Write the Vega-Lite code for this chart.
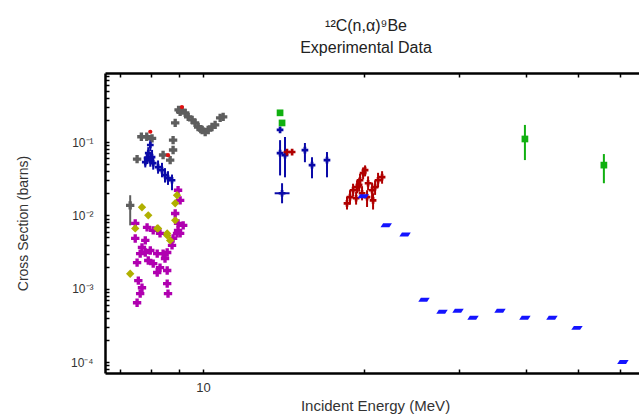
{
  "$schema": "https://vega.github.io/schema/vega-lite/v6.json",
  "width": 540,
  "height": 300,
  "autosize": "none",
  "padding": {"left": 105, "top": 73, "right": 0, "bottom": 43},
  "background": "white",
  "title": {"text": ["¹²C(n,α)⁹Be", "Experimental Data"], "font": "Liberation Sans", "fontSize": 16, "fontWeight": "normal", "color": "#222", "anchor": "middle", "offset": 16, "lineHeight": 22, "dx": -9},
  "config": {
    "view": {"stroke": null},
    "axis": {"domainColor": "black", "domainWidth": 2.5, "tickColor": "black", "tickWidth": 1.5, "grid": false, "labelFont": "Liberation Sans", "titleFont": "Liberation Sans", "labelColor": "#333", "titleColor": "#333", "titleFontWeight": "normal", "labelFontSize": 12, "titleFontSize": 15}
  },
  "data": {"values": [
    {"s": "gray", "E": 9.0, "sig": 0.274}, {"s": "gray", "E": 9.14, "sig": 0.27}, {"s": "gray", "E": 9.06, "sig": 0.258}, {"s": "gray", "E": 9.26, "sig": 0.25},
    {"s": "gray", "E": 9.38, "sig": 0.22}, {"s": "gray", "E": 9.54, "sig": 0.2}, {"s": "gray", "E": 9.66, "sig": 0.182}, {"s": "gray", "E": 9.79, "sig": 0.16},
    {"s": "gray", "E": 9.96, "sig": 0.146}, {"s": "gray", "E": 10.09, "sig": 0.137}, {"s": "gray", "E": 10.22, "sig": 0.146}, {"s": "gray", "E": 10.39, "sig": 0.16},
    {"s": "gray", "E": 10.53, "sig": 0.171}, {"s": "gray", "E": 10.76, "sig": 0.213}, {"s": "gray", "E": 10.9, "sig": 0.22}, {"s": "gray", "E": 9.9, "sig": 0.15},
    {"s": "gray", "E": 8.87, "sig": 0.182}, {"s": "gray", "E": 8.79, "sig": 0.106}, {"s": "gray", "E": 8.79, "sig": 0.0777}, {"s": "gray", "E": 8.68, "sig": 0.0567},
    {"s": "gray", "E": 8.42, "sig": 0.0664}, {"s": "gray", "E": 7.67, "sig": 0.118}, {"s": "gray", "E": 7.85, "sig": 0.118}, {"s": "gray", "E": 8.03, "sig": 0.112},
    {"s": "gray", "E": 7.53, "sig": 0.0585}, {"s": "gray", "E": 7.31, "sig": 0.0137, "lo": 0.0073, "hi": 0.0188},
    {"s": "red", "E": 9.13, "sig": 0.3}, {"s": "red", "E": 7.97, "sig": 0.138}, {"s": "red", "E": 8.6, "sig": 0.066},
    {"s": "navy", "E": 7.97, "sig": 0.091, "lo": 0.075, "hi": 0.11}, {"s": "navy", "E": 7.9, "sig": 0.0707, "lo": 0.058, "hi": 0.085},
    {"s": "navy", "E": 7.86, "sig": 0.0604, "lo": 0.05, "hi": 0.072}, {"s": "navy", "E": 8.03, "sig": 0.0623, "lo": 0.05, "hi": 0.078},
    {"s": "navy", "E": 8.07, "sig": 0.0516, "lo": 0.042, "hi": 0.063}, {"s": "navy", "E": 8.24, "sig": 0.0455, "lo": 0.037, "hi": 0.056},
    {"s": "navy", "E": 8.38, "sig": 0.0413, "lo": 0.033, "hi": 0.052}, {"s": "navy", "E": 8.49, "sig": 0.0353, "lo": 0.028, "hi": 0.044},
    {"s": "navy", "E": 8.6, "sig": 0.0321, "lo": 0.026, "hi": 0.04}, {"s": "navy", "E": 8.75, "sig": 0.0301, "lo": 0.022, "hi": 0.036},
    {"s": "navy", "E": 7.97, "sig": 0.0567, "lo": 0.046, "hi": 0.07}, {"s": "navy", "E": 7.8, "sig": 0.0532, "lo": 0.045, "hi": 0.064},
    {"s": "navy", "E": 13.92, "sig": 0.146, "lo": 0.135, "hi": 0.16}, {"s": "navy", "E": 13.92, "sig": 0.0707, "lo": 0.035, "hi": 0.106},
    {"s": "navy", "E": 14.22, "sig": 0.0664, "lo": 0.033, "hi": 0.117}, {"s": "navy", "E": 14.04, "sig": 0.02, "lo": 0.0146, "hi": 0.0274, "elo": 13.6, "ehi": 14.5},
    {"s": "navy", "E": 15.49, "sig": 0.0777, "lo": 0.053, "hi": 0.097}, {"s": "navy", "E": 15.97, "sig": 0.0484, "lo": 0.032, "hi": 0.062},
    {"s": "navy", "E": 17.03, "sig": 0.0567, "lo": 0.033, "hi": 0.073},
    {"s": "magenta", "E": 7.47, "sig": 0.00484}, {"s": "magenta", "E": 7.69, "sig": 0.00365}, {"s": "magenta", "E": 7.63, "sig": 0.00301},
    {"s": "magenta", "E": 7.8, "sig": 0.00311}, {"s": "magenta", "E": 7.97, "sig": 0.00332}, {"s": "magenta", "E": 8.21, "sig": 0.00301},
    {"s": "magenta", "E": 8.42, "sig": 0.00301}, {"s": "magenta", "E": 8.57, "sig": 0.00311}, {"s": "magenta", "E": 8.94, "sig": 0.00567},
    {"s": "magenta", "E": 8.98, "sig": 0.00623}, {"s": "magenta", "E": 8.79, "sig": 0.00484}, {"s": "magenta", "E": 7.53, "sig": 0.00227},
    {"s": "magenta", "E": 7.9, "sig": 0.00242}, {"s": "magenta", "E": 8.07, "sig": 0.0022}, {"s": "magenta", "E": 8.31, "sig": 0.00194},
    {"s": "magenta", "E": 8.57, "sig": 0.00177}, {"s": "magenta", "E": 8.21, "sig": 0.00166}, {"s": "magenta", "E": 7.57, "sig": 0.00129},
    {"s": "magenta", "E": 7.69, "sig": 0.00103}, {"s": "magenta", "E": 7.63, "sig": 0.000855}, {"s": "magenta", "E": 7.53, "sig": 0.000643},
    {"s": "magenta", "E": 8.57, "sig": 0.00117}, {"s": "magenta", "E": 8.6, "sig": 0.000855}, {"s": "magenta", "E": 8.98, "sig": 0.022},
    {"s": "magenta", "E": 9.06, "sig": 0.016}, {"s": "magenta", "E": 8.87, "sig": 0.0106}, {"s": "magenta", "E": 8.98, "sig": 0.00776},
    {"s": "magenta", "E": 7.47, "sig": 0.00776}, {"s": "magenta", "E": 7.86, "sig": 0.00685}, {"s": "magenta", "E": 8.07, "sig": 0.00623},
    {"s": "magenta", "E": 8.31, "sig": 0.00567}, {"s": "magenta", "E": 9.06, "sig": 0.00567}, {"s": "magenta", "E": 7.8, "sig": 0.00455},
    {"s": "magenta", "E": 8.49, "sig": 0.00258}, {"s": "magenta", "E": 8.75, "sig": 0.0039}, {"s": "magenta", "E": 9.18, "sig": 0.0073},
    {"s": "olive", "E": 8.94, "sig": 0.0188}, {"s": "olive", "E": 8.87, "sig": 0.0146}, {"s": "olive", "E": 8.87, "sig": 0.00855},
    {"s": "olive", "E": 7.69, "sig": 0.0129}, {"s": "olive", "E": 7.9, "sig": 0.01}, {"s": "olive", "E": 8.24, "sig": 0.00664},
    {"s": "olive", "E": 8.57, "sig": 0.00567}, {"s": "olive", "E": 7.47, "sig": 0.00664}, {"s": "olive", "E": 8.21, "sig": 0.00664},
    {"s": "olive", "E": 8.57, "sig": 0.00532}, {"s": "olive", "E": 8.68, "sig": 0.00455}, {"s": "olive", "E": 7.31, "sig": 0.0016},
    {"s": "darkred", "E": 14.34, "sig": 0.073, "lo": 0.066, "hi": 0.08}, {"s": "darkred", "E": 14.66, "sig": 0.073},
    {"s": "darkred", "E": 18.56, "sig": 0.0146, "lo": 0.012, "hi": 0.018}, {"s": "darkred", "E": 18.8, "sig": 0.0177, "lo": 0.014, "hi": 0.022},
    {"s": "darkred", "E": 19.05, "sig": 0.022, "lo": 0.018, "hi": 0.027}, {"s": "darkred", "E": 19.38, "sig": 0.0242, "lo": 0.02, "hi": 0.03},
    {"s": "darkred", "E": 19.63, "sig": 0.0301, "lo": 0.024, "hi": 0.037}, {"s": "darkred", "E": 19.89, "sig": 0.0376, "lo": 0.031, "hi": 0.045},
    {"s": "darkred", "E": 20.06, "sig": 0.0413, "lo": 0.034, "hi": 0.048}, {"s": "darkred", "E": 20.32, "sig": 0.0274, "lo": 0.022, "hi": 0.034},
    {"s": "darkred", "E": 20.67, "sig": 0.022, "lo": 0.016, "hi": 0.028}, {"s": "darkred", "E": 20.94, "sig": 0.0242, "lo": 0.019, "hi": 0.03},
    {"s": "darkred", "E": 21.21, "sig": 0.0301, "lo": 0.024, "hi": 0.038}, {"s": "darkred", "E": 21.58, "sig": 0.0332, "lo": 0.027, "hi": 0.04},
    {"s": "darkred", "E": 19.8, "sig": 0.02, "lo": 0.016, "hi": 0.025}, {"s": "darkred", "E": 20.23, "sig": 0.0177, "lo": 0.013, "hi": 0.022},
    {"s": "darkred", "E": 20.76, "sig": 0.016, "lo": 0.012, "hi": 0.02}, {"s": "darkred", "E": 19.3, "sig": 0.0171, "lo": 0.014, "hi": 0.021},
    {"s": "darkred", "E": 19.55, "sig": 0.026, "lo": 0.021, "hi": 0.032},
    {"s": "blue", "E": 19.89, "sig": 0.0182}, {"s": "blue", "E": 21.97, "sig": 0.0073}, {"s": "blue", "E": 23.82, "sig": 0.00549},
    {"s": "blue", "E": 25.84, "sig": 0.000707}, {"s": "blue", "E": 27.92, "sig": 0.000484}, {"s": "blue", "E": 29.91, "sig": 0.0005},
    {"s": "blue", "E": 31.9, "sig": 0.000401}, {"s": "blue", "E": 35.82, "sig": 0.0005}, {"s": "blue", "E": 39.87, "sig": 0.000401},
    {"s": "blue", "E": 44.78, "sig": 0.000401}, {"s": "blue", "E": 49.87, "sig": 0.000292}, {"s": "blue", "E": 60.75, "sig": 0.0001},
    {"s": "green", "E": 13.92, "sig": 0.25}, {"s": "green", "E": 14.04, "sig": 0.182},
    {"s": "green", "E": 39.87, "sig": 0.11, "lo": 0.0567, "hi": 0.171}, {"s": "green", "E": 55.98, "sig": 0.0484, "lo": 0.0274, "hi": 0.0685}
  ]},
  "resolve": {"axis": {"x": "independent", "y": "independent"}},
  "layer": [
    {
      "transform": [{"filter": "isValid(datum.lo)"}],
      "mark": {"type": "rule", "strokeWidth": 2},
      "encoding": {
        "x": {"field": "E", "type": "quantitative", "scale": {"type": "log", "domain": [6.56, 66.8], "nice": false},
          "axis": {"title": "Incident Energy (MeV)", "values": [7, 8, 9, 10, 20, 30, 40, 50, 60], "labelExpr": "datum.value == 10 ? '10' : ''", "tickSize": -4, "labelPadding": 12, "labelFontSize": 13, "titlePadding": 4}},
        "y": {"field": "lo", "type": "quantitative", "scale": {"type": "log", "domain": [0.0000708, 0.873], "nice": false},
          "axis": {"title": "Cross Section (barns)", "values": [0.00008, 0.00009, 0.0001, 0.0002, 0.0003, 0.0004, 0.0005, 0.0006, 0.0007, 0.0008, 0.0009, 0.001, 0.002, 0.003, 0.004, 0.005, 0.006, 0.007, 0.008, 0.009, 0.01, 0.02, 0.03, 0.04, 0.05, 0.06, 0.07, 0.08, 0.09, 0.1, 0.2, 0.3, 0.4, 0.5, 0.6, 0.7, 0.8],
            "labelExpr": "datum.value == 0.1 ? '10⁻¹' : datum.value == 0.01 ? '10⁻²' : datum.value == 0.001 ? '10⁻³' : datum.value == 0.0001 ? '10⁻⁴' : ''", "tickSize": -4, "labelPadding": 16, "titlePadding": 40, "titleFontSize": 14}},
        "y2": {"field": "hi"},
        "color": {"field": "s", "type": "nominal", "legend": null,
          "scale": {"domain": ["gray", "red", "navy", "magenta", "olive", "darkred", "blue", "green"], "range": ["#5e5e5e", "#e01010", "#0a0aa8", "#b000b0", "#b0b000", "#b00000", "#1414ff", "#10b010"]}}
      }
    },
    {
      "transform": [{"filter": "isValid(datum.elo)"}],
      "mark": {"type": "rule", "strokeWidth": 2},
      "encoding": {
        "x": {"field": "elo", "type": "quantitative", "scale": {"type": "log", "domain": [6.56, 66.8], "nice": false},
          "axis": {"orient": "top", "title": null, "labels": false, "values": [7, 8, 9, 10, 20, 30, 40, 50, 60], "tickSize": -4}},
        "x2": {"field": "ehi"},
        "y": {"field": "sig", "type": "quantitative", "scale": {"type": "log", "domain": [0.0000708, 0.873], "nice": false}, "axis": null},
        "color": {"field": "s", "type": "nominal", "legend": null}
      }
    },
    {
      "transform": [{"filter": {"field": "s", "oneOf": ["gray", "magenta", "olive"]}}],
      "mark": {"type": "point", "filled": true, "opacity": 1, "size": 70},
      "encoding": {
        "x": {"field": "E", "type": "quantitative", "scale": {"type": "log", "domain": [6.56, 66.8], "nice": false}, "axis": null},
        "y": {"field": "sig", "type": "quantitative", "scale": {"type": "log", "domain": [0.0000708, 0.873], "nice": false}, "axis": null},
        "color": {"field": "s", "type": "nominal", "legend": null},
        "shape": {"field": "s", "type": "nominal", "legend": null,
          "scale": {"domain": ["gray", "red", "navy", "magenta", "olive", "darkred", "blue", "green"], "range": ["cross", "circle", "cross", "cross", "diamond", "cross", "M-1,0.35L-0.55,-0.35L1,-0.35L0.55,0.35Z", "square"]}}
      }
    },
    {
      "transform": [{"filter": {"field": "s", "oneOf": ["navy", "darkred", "green"]}}],
      "mark": {"type": "point", "filled": true, "opacity": 1, "size": 45},
      "encoding": {
        "x": {"field": "E", "type": "quantitative", "scale": {"type": "log", "domain": [6.56, 66.8], "nice": false}, "axis": null},
        "y": {"field": "sig", "type": "quantitative", "scale": {"type": "log", "domain": [0.0000708, 0.873], "nice": false}, "axis": null},
        "color": {"field": "s", "type": "nominal", "legend": null},
        "shape": {"field": "s", "type": "nominal", "legend": null}
      }
    },
    {
      "transform": [{"filter": {"field": "s", "oneOf": ["red"]}}],
      "mark": {"type": "point", "filled": true, "opacity": 1, "size": 18},
      "encoding": {
        "x": {"field": "E", "type": "quantitative", "scale": {"type": "log", "domain": [6.56, 66.8], "nice": false}, "axis": null},
        "y": {"field": "sig", "type": "quantitative", "scale": {"type": "log", "domain": [0.0000708, 0.873], "nice": false}, "axis": null},
        "color": {"field": "s", "type": "nominal", "legend": null},
        "shape": {"field": "s", "type": "nominal", "legend": null}
      }
    },
    {
      "transform": [{"filter": {"field": "s", "oneOf": ["blue"]}}],
      "mark": {"type": "point", "filled": true, "opacity": 1, "size": 130},
      "encoding": {
        "x": {"field": "E", "type": "quantitative", "scale": {"type": "log", "domain": [6.56, 66.8], "nice": false}, "axis": null},
        "y": {"field": "sig", "type": "quantitative", "scale": {"type": "log", "domain": [0.0000708, 0.873], "nice": false}, "axis": null},
        "color": {"field": "s", "type": "nominal", "legend": null},
        "shape": {"field": "s", "type": "nominal", "legend": null}
      }
    }
  ]
}
